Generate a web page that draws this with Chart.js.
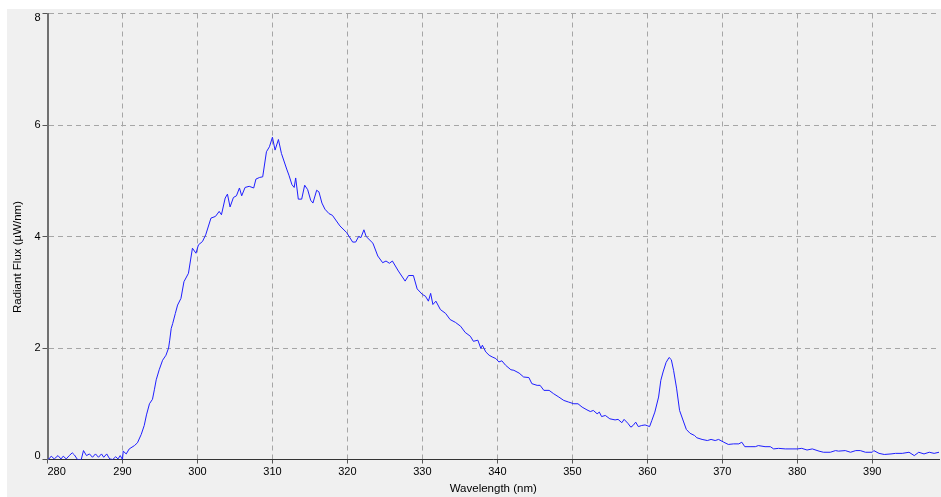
<!DOCTYPE html>
<html lang="en">
<head>
  <meta charset="UTF-8" />
  <title>Radiant Flux Spectrum</title>
  <script src="https://cdn.jsdelivr.net/npm/chart.js"></script>
  <style>
    html, body {
      margin: 0;
      padding: 0;
      background: #fff;
      overflow: hidden;
    }
    #spectrum {
      display: block;
    }
  </style>
</head>
<body>
  <canvas id="spectrum" width="941" height="497"></canvas>

  <script>
    // measured spectrum: wavelength (nm) and radiant flux (uW/nm)
    const wavelengths = [
      280.0, 280.2, 280.5, 280.9, 281.4, 281.8, 282.1, 282.5, 282.9, 283.3,
      283.6, 284.0, 284.5, 284.8, 285.2, 285.6, 286.0, 286.4, 286.8, 287.2,
      287.5, 287.9, 288.3, 288.7, 289.1, 289.4, 289.7, 290.0, 290.1, 290.5,
      290.9, 291.6, 292.0, 292.5, 292.9, 293.2, 293.6, 294.0, 294.25, 294.5,
      294.9, 295.35, 295.8, 296.15, 296.3, 296.5, 296.7, 297.05, 297.35, 297.8,
      298.2, 298.8, 299.33, 299.8, 300.13, 300.67, 301.1, 301.8, 302.4, 302.9,
      303.2, 303.7, 304.0, 304.35, 304.8, 305.2, 305.6, 305.9, 306.35, 306.9,
      307.5, 307.8, 308.3, 308.7, 309.2, 309.6, 310.0, 310.35, 310.8, 311.2,
      311.9, 312.2, 312.6, 312.9, 313.1, 313.45, 313.9, 314.3, 314.7, 315.1,
      315.4, 315.9, 316.2, 316.6, 317.0, 317.55, 318.0, 319.0, 319.9, 320.7,
      321.1, 321.5, 321.8, 322.2, 322.5, 323.4, 324.05, 324.7, 325.15, 325.6,
      326.0, 326.8, 327.7, 328.15, 328.8, 329.3, 330.0, 330.4, 330.8, 331.1,
      331.4, 331.8, 332.4, 333.1, 333.7, 334.4, 335.1, 335.7, 336.4, 336.8,
      337.4, 337.8, 338.0, 338.45, 338.9, 339.3, 339.8, 340.2, 340.6, 341.1,
      341.8, 342.2, 342.9, 343.5, 344.2, 344.6, 345.3, 345.7, 346.2, 346.9,
      347.5, 348.2, 348.85, 349.5, 350.2, 350.75, 351.3, 351.95, 352.4, 352.8,
      353.3, 353.6, 353.9, 354.4, 355.0, 355.7, 356.1, 356.6, 356.9, 357.4,
      357.8, 358.1, 358.45, 358.8, 359.25, 359.7, 360.3, 360.6, 361.0, 361.5,
      361.8, 362.1, 362.5, 362.9, 363.2, 363.5, 363.9, 364.3, 364.8, 365.2,
      365.7, 366.3, 366.6, 367.3, 368.0, 368.5, 369.05, 369.5, 370.2, 370.8,
      371.5, 372.2, 372.6, 373.0, 373.7, 374.4, 374.8, 375.7, 376.4, 376.85,
      377.5, 378.4, 379.3, 380.0, 380.6, 381.3, 382.0, 382.9, 383.5, 384.4,
      385.1, 385.5, 386.4, 387.1, 387.8, 388.4, 389.1, 390.0, 390.2, 390.9,
      391.6, 392.5, 393.1, 394.0, 394.9, 395.6, 396.2, 396.9, 397.6, 398.25,
      398.9
    ];
    const flux = [
      0.00, 0.01, 0.06, 0.01, 0.07, 0.01, 0.06, 0.01, 0.07, 0.12,
      0.08, 0.00, 0.00, 0.16, 0.07, 0.10, 0.04, 0.10, 0.04, 0.10,
      0.04, 0.10, 0.01, 0.00, 0.05, 0.01, 0.07, 0.00, 0.15, 0.10,
      0.19, 0.25, 0.30, 0.45, 0.61, 0.80, 1.00, 1.08, 1.25, 1.43,
      1.61, 1.78, 1.87, 2.00, 2.14, 2.35, 2.44, 2.62, 2.77, 2.89,
      3.19, 3.34, 3.79, 3.70, 3.85, 3.91, 4.03, 4.33, 4.36, 4.45,
      4.39, 4.69, 4.76, 4.53, 4.70, 4.73, 4.87, 4.73, 4.88, 4.90,
      4.87, 5.03, 5.06, 5.07, 5.52, 5.61, 5.78, 5.55, 5.74, 5.49,
      5.21, 5.10, 4.93, 4.88, 5.05, 4.67, 4.67, 4.92, 4.84, 4.65,
      4.60, 4.83, 4.80, 4.60, 4.49, 4.41, 4.38, 4.19, 4.07, 3.90,
      3.90, 4.00, 3.98, 4.12, 4.00, 3.88, 3.65, 3.53, 3.56, 3.52,
      3.56, 3.38, 3.20, 3.30, 3.30, 3.06, 2.96, 2.93, 2.84, 2.98,
      2.78, 2.84, 2.69, 2.62, 2.51, 2.46, 2.39, 2.28, 2.21, 2.12,
      2.14, 1.99, 2.05, 1.93, 1.87, 1.84, 1.81, 1.75, 1.77, 1.69,
      1.61, 1.60, 1.55, 1.48, 1.47, 1.36, 1.33, 1.33, 1.24, 1.24,
      1.18, 1.12, 1.06, 1.03, 1.00, 1.00, 0.94, 0.89, 0.86, 0.88,
      0.82, 0.85, 0.77, 0.79, 0.73, 0.71, 0.72, 0.66, 0.72, 0.65,
      0.58, 0.61, 0.67, 0.59, 0.61, 0.62, 0.59, 0.70, 0.85, 1.12,
      1.42, 1.57, 1.74, 1.83, 1.79, 1.60, 1.28, 0.88, 0.69, 0.54,
      0.47, 0.43, 0.39, 0.36, 0.34, 0.36, 0.34, 0.36, 0.31, 0.27,
      0.28, 0.28, 0.31, 0.23, 0.23, 0.23, 0.25, 0.23, 0.23, 0.19,
      0.20, 0.19, 0.19, 0.19, 0.20, 0.17, 0.19, 0.15, 0.13, 0.13,
      0.16, 0.15, 0.16, 0.13, 0.16, 0.16, 0.13, 0.13, 0.16, 0.11,
      0.09, 0.10, 0.11, 0.11, 0.13, 0.07, 0.13, 0.10, 0.13, 0.11,
      0.13
    ];

    const xTickLabels = [280, 290, 300, 310, 320, 330, 340, 350, 360, 370, 380, 390];
    const yTickLabels = [0, 2, 4, 6, 8];
    const X_MIN = 280;
    const X_MAX = 398.9;
    const xTitle = 'Wavelength (nm)';
    const yTitle = 'Radiant Flux (\u00b5W/nm)';

    const FAMILY = "'Liberation Sans', Arial, sans-serif";
    const GRID = '#a6a6a6';

    Chart.defaults.font.family = FAMILY;
    Chart.defaults.font.size = 11;
    Chart.defaults.color = '#000';

    // grey panel behind the plot, inset from the top-left corner
    const panelBg = {
      id: 'panelBg',
      beforeDraw(chart) {
        const c = chart.ctx;
        c.save();
        c.fillStyle = '#fff';
        c.fillRect(0, 0, chart.width, chart.height);
        c.fillStyle = '#f0f0f0';
        c.fillRect(7, 9, chart.width - 7, chart.height - 9);
        c.restore();
      }
    };

    // vertical axis title, centred on the panel rather than the plot
    const yAxisTitle = {
      id: 'yAxisTitle',
      afterDraw(chart) {
        const c = chart.ctx;
        c.save();
        c.translate(18, 257);
        c.rotate(-Math.PI / 2);
        c.font = '11.5px ' + FAMILY;
        c.fillStyle = '#000';
        c.textAlign = 'center';
        c.textBaseline = 'middle';
        c.fillText(yTitle, 0, 0);
        c.restore();
      }
    };

    const points = wavelengths.map((w, i) => ({ x: w, y: flux[i] }));

    new Chart(document.getElementById('spectrum'), {
      type: 'line',
      data: {
        datasets: [{
          data: points,
          borderColor: '#1e1eff',
          borderWidth: 1,
          pointRadius: 0,
          tension: 0,
          fill: false
        }]
      },
      options: {
        responsive: false,
        animation: false,
        events: [],
        layout: { padding: { left: 7, top: 13.5, right: 0, bottom: 0 } },
        plugins: {
          legend: { display: false },
          tooltip: { enabled: false }
        },
        scales: {
          x: {
            type: 'linear',
            min: X_MIN,
            max: X_MAX,
            afterBuildTicks(scale) {
              // an unlabelled tick at the right edge so 'inner' only nudges the first label
              scale.ticks = xTickLabels.map(v => ({ value: v })).concat([{ value: X_MAX }]);
            },
            afterFit(scale) { scale.height = 37.5; },
            ticks: {
              align: 'inner',
              padding: 2,
              maxRotation: 0,
              autoSkip: false,
              callback: v => (v === X_MAX ? '' : String(v))
            },
            grid: {
              color: c => (c.tick && c.tick.value === X_MAX ? 'transparent' : GRID),
              lineWidth: 1,
              tickLength: 4,
              tickColor: c => (c.tick && c.tick.value === X_MAX ? 'transparent' : '#555'),
              tickBorderDash: []
            },
            border: { color: '#333', width: 1, dash: [5, 4] },
            title: {
              display: true,
              text: xTitle,
              font: { size: 11.5 },
              padding: { top: 0, bottom: 1.5 }
            }
          },
          y: {
            min: 0,
            max: 8,
            afterBuildTicks(scale) {
              scale.ticks = yTickLabels.map(v => ({ value: v }));
            },
            afterFit(scale) { scale.width = 40.5; },
            ticks: {
              padding: 2,
              // end labels sit just inside the axis: pad them with an empty line
              font: { size: 11, lineHeight: 8 / 11 },
              callback: (v, i, ticks) => {
                if (i === 0) return [String(v), ''];
                if (i === ticks.length - 1) return ['', String(v)];
                return String(v);
              }
            },
            grid: {
              color: GRID,
              lineWidth: 1,
              tickLength: 5,
              tickColor: '#555',
              tickBorderDash: []
            },
            border: { color: '#707070', width: 2, dash: [5, 4] }
          }
        }
      },
      plugins: [panelBg, yAxisTitle]
    });
  </script>
</body>
</html>
